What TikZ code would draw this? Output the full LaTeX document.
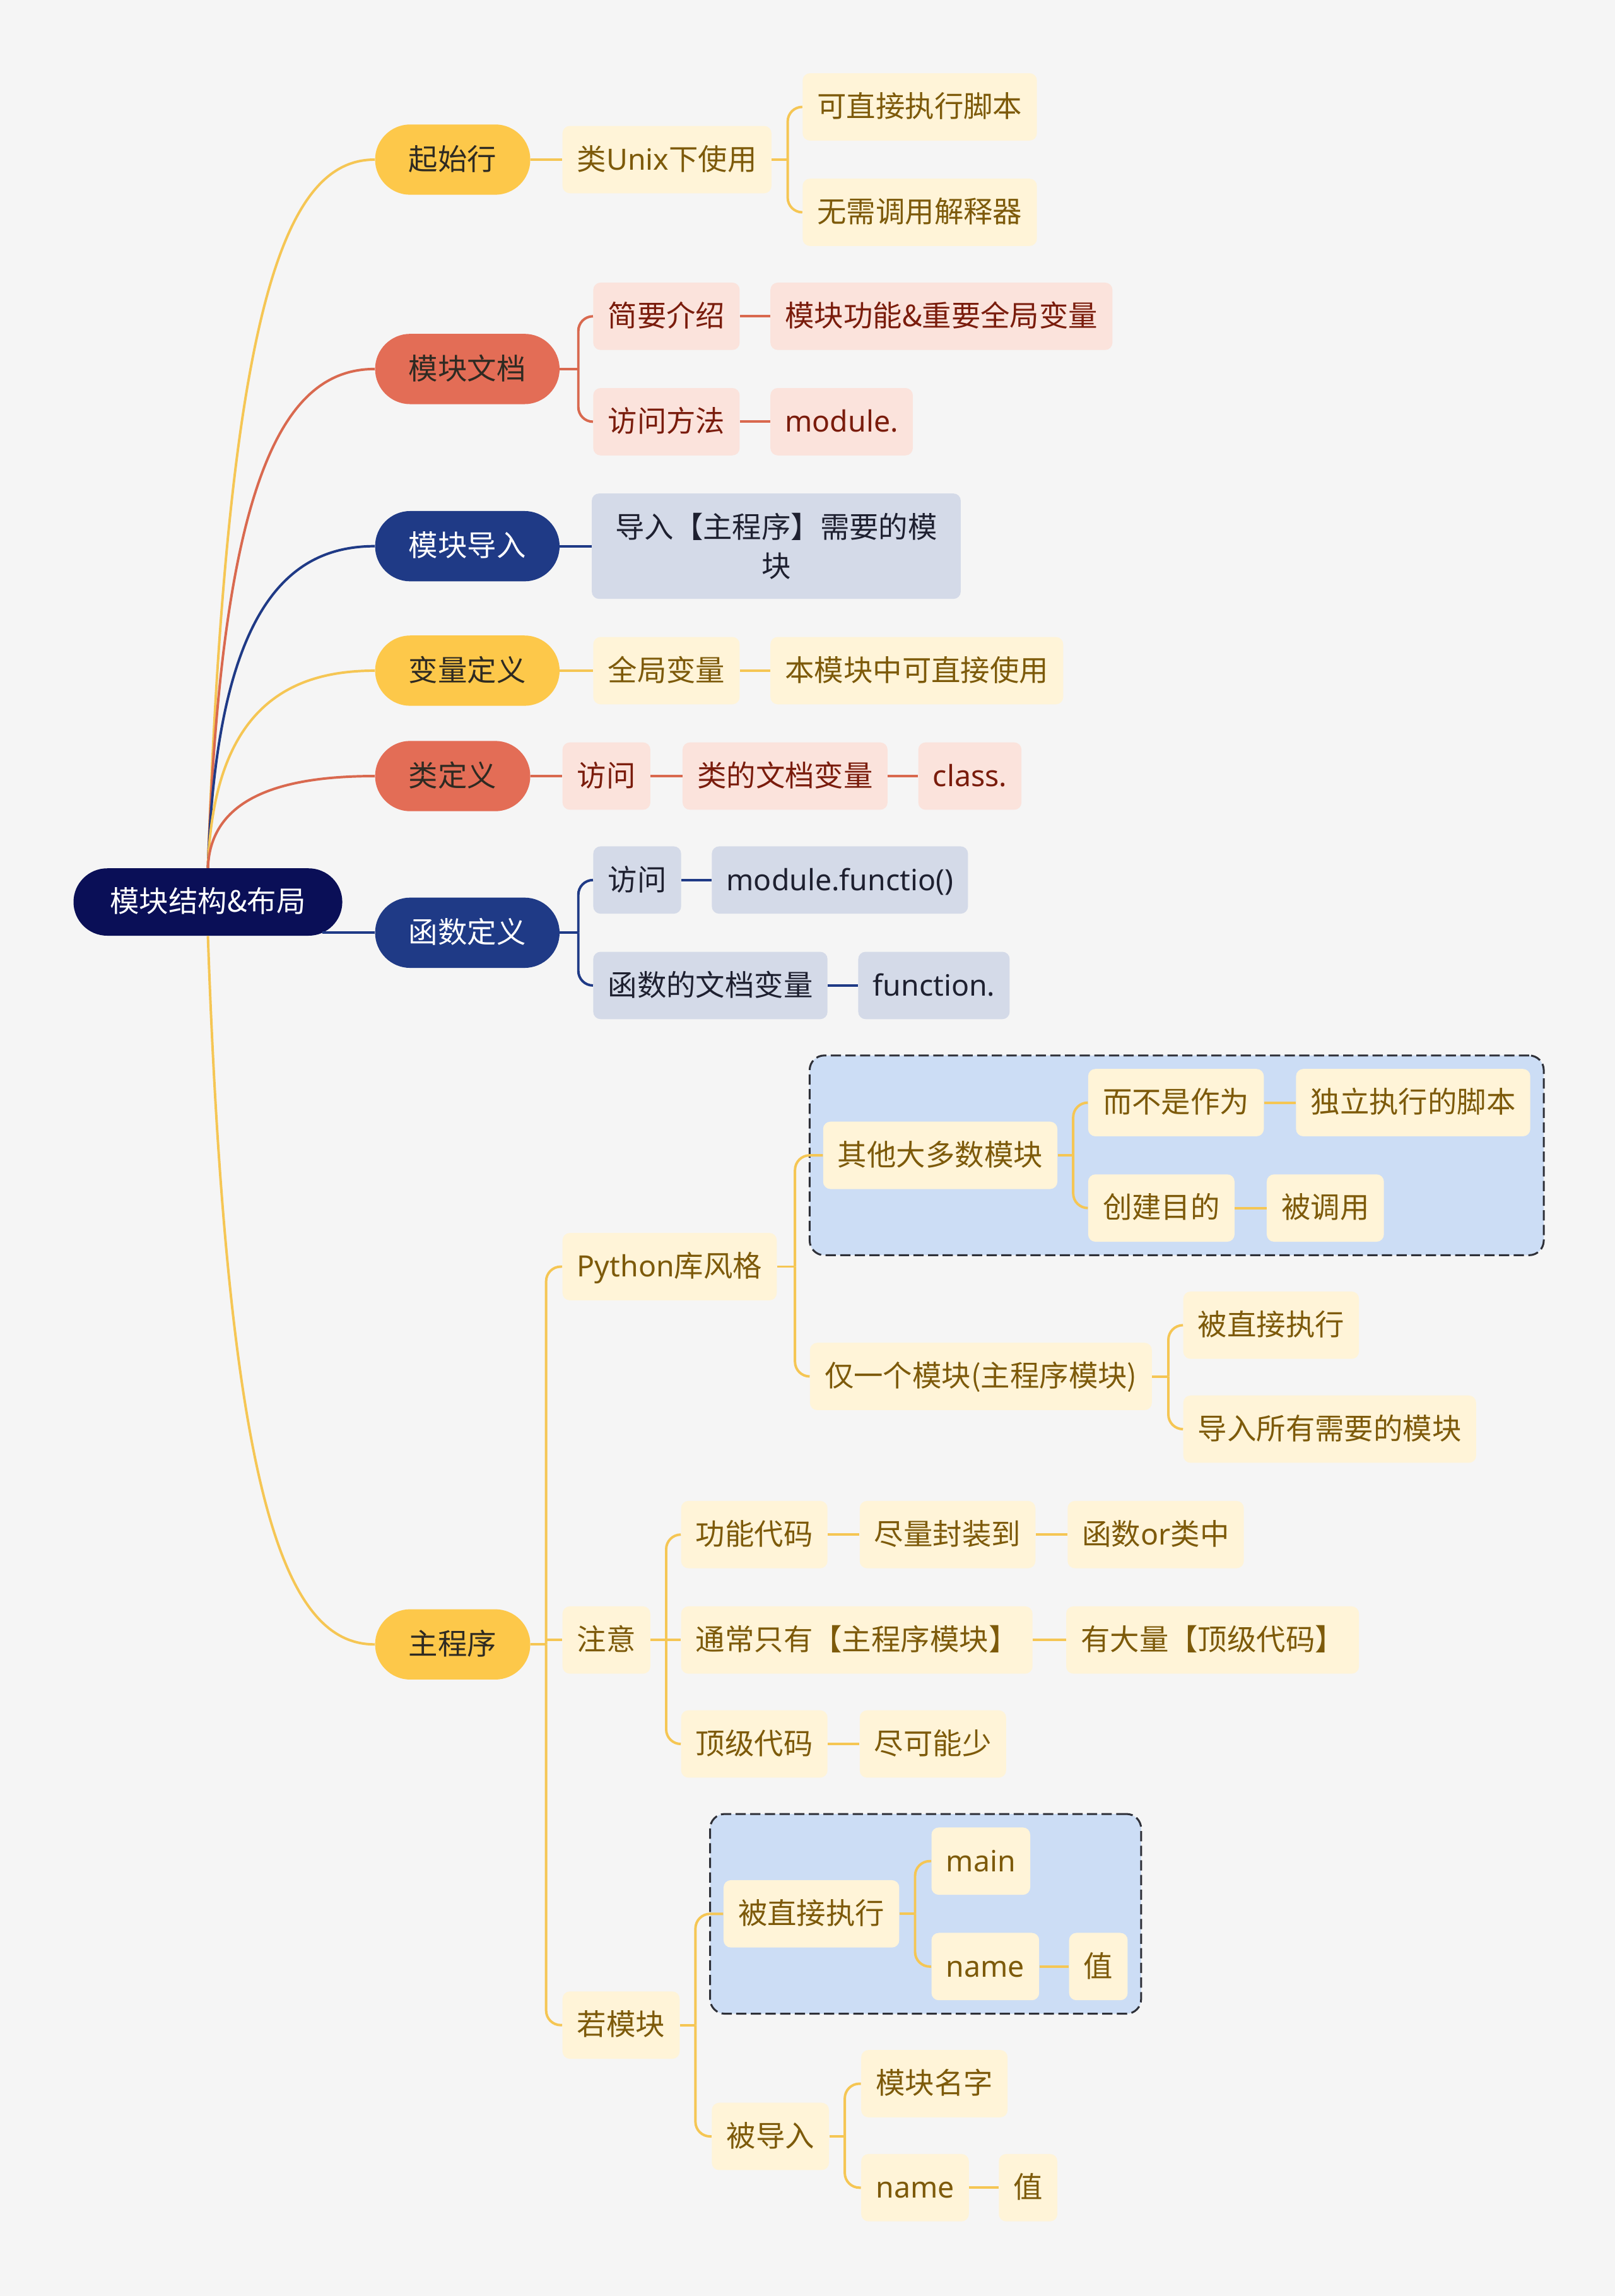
\documentclass[tikz,border=0pt]{standalone}
\usepackage{fontspec}
\setmainfont{Noto Sans CJK SC}
\newfontfamily\latin{Noto Sans}
\usetikzlibrary{fit, backgrounds}

\definecolor{pagebg}{HTML}{F5F5F5}
\definecolor{rootc}{HTML}{0A0F57}
\definecolor{ylwmain}{HTML}{FDC84A}
\definecolor{redmain}{HTML}{E36D56}
\definecolor{navymain}{HTML}{1F3A86}
\definecolor{ylwlight}{HTML}{FFF4D8}
\definecolor{redlight}{HTML}{FBE3DC}
\definecolor{navylight}{HTML}{D4DAE8}
\definecolor{ylwtxt}{HTML}{7D5A0A}
\definecolor{redtxt}{HTML}{7A1C0C}
\definecolor{navytxt}{HTML}{1E2030}
\definecolor{darktxt}{HTML}{2E2A22}
\definecolor{ylwline}{HTML}{F5C654}
\definecolor{redline}{HTML}{D9694F}
\definecolor{boxblue}{HTML}{CCDDF5}
\definecolor{boxedge}{HTML}{2E3038}

\begin{document}
\begin{tikzpicture}[
    x=1pt, y=1pt,
    font=\fontsize{20pt}{27pt}\selectfont,
    root node/.style={fill=rootc, text=white, rounded corners=23pt, minimum height=46pt, inner xsep=25pt, text height=17pt, text depth=3pt, anchor=west},
    main node/.style={rounded corners=24pt, minimum height=48pt, inner xsep=23pt, text height=17pt, text depth=3pt, anchor=west},
    ylw main/.style={main node, fill=ylwmain, text=darktxt},
    red main/.style={main node, fill=redmain, text=darktxt},
    navy main/.style={main node, fill=navymain, text=white},
    leaf node/.style={rounded corners=5pt, minimum height=46pt, inner xsep=10pt, text height=17pt, text depth=3pt, anchor=west},
    ylw leaf/.style={leaf node, fill=ylwlight, text=ylwtxt},
    red leaf/.style={leaf node, fill=redlight, text=redtxt},
    navy leaf/.style={leaf node, fill=navylight, text=navytxt},
    navy block/.style={rounded corners=5pt, fill=navylight, text=navytxt, minimum height=72pt, inner xsep=16pt, align=center, anchor=west},
    ylw line/.style={draw=ylwline, line width=1.7pt},
    red line/.style={draw=redline, line width=1.7pt},
    navy line/.style={draw=navymain, line width=1.7pt},
    fork/.style={rounded corners=10pt},
    dash box/.style={fill=boxblue, draw=boxedge, line width=1.3pt, dash pattern=on 7pt off 3pt, rounded corners=10pt, inner sep=9pt}
]
    \useasboundingbox (0,0) rectangle (1103,-1568);

    % --- root and main branches ---
    \node[root node] (root) at (50,-616) {模块结构\&布局};
    \node[ylw main] (start) at (256,-109) {起始行};
    \node[red main] (doc) at (256,-252) {模块文档};
    \node[navy main] (imp) at (256,-373) {模块导入};
    \node[ylw main] (var) at (256,-458) {变量定义};
    \node[red main] (cls) at (256,-530) {类定义};
    \node[navy main] (func) at (256,-637) {函数定义};
    \node[ylw main] (prog) at (256,-1123) {主程序};

    % --- 起始行 ---
    \node[ylw leaf] (unix) at (384,-109) {类{\latin Unix}下使用};
    \node[ylw leaf] (direct) at (548,-73) {可直接执行脚本};
    \node[ylw leaf] (nointerp) at (548,-145) {无需调用解释器};

    % --- 模块文档 ---
    \node[red leaf] (brief) at (405,-216) {简要介绍};
    \node[red leaf] (feature) at (526,-216) {模块功能\&重要全局变量};
    \node[red leaf] (access) at (405,-288) {访问方法};
    \node[red leaf] (moddot) at (526,-288) {\latin module.};

    % --- 模块导入 ---
    \node[navy block] (impmod) at (404,-373) {导入【主程序】需要的模\\块};

    % --- 变量定义 ---
    \node[ylw leaf] (glob) at (405,-458) {全局变量};
    \node[ylw leaf] (usable) at (526,-458) {本模块中可直接使用};

    % --- 类定义 ---
    \node[red leaf] (clsacc) at (384,-530) {访问};
    \node[red leaf] (clsdoc) at (466,-530) {类的文档变量};
    \node[red leaf] (clsdot) at (627,-530) {\latin class.};

    % --- 函数定义 ---
    \node[navy leaf] (fnacc) at (405,-601) {访问};
    \node[navy leaf] (fncall) at (486,-601) {\latin module.functio()};
    \node[navy leaf] (fndoc) at (405,-673) {函数的文档变量};
    \node[navy leaf] (fndot) at (586,-673) {\latin function.};

    % --- 主程序 ---
    \node[ylw leaf] (pystyle) at (384,-865) {{\latin Python}库风格};
    \node[ylw leaf] (most) at (562,-789) {其他大多数模块};
    \node[ylw leaf] (notas) at (743,-753) {而不是作为};
    \node[ylw leaf] (script) at (885,-753) {独立执行的脚本};
    \node[ylw leaf] (purpose) at (743,-825) {创建目的};
    \node[ylw leaf] (called) at (865,-825) {被调用};
    \node[ylw leaf] (onlyone) at (553,-940) {仅一个模块(主程序模块)};
    \node[ylw leaf] (rundirect) at (808,-905) {被直接执行};
    \node[ylw leaf] (impall) at (808,-976) {导入所有需要的模块};

    \node[ylw leaf] (note) at (384,-1120) {注意};
    \node[ylw leaf] (funccode) at (465,-1048) {功能代码};
    \node[ylw leaf] (wrapup) at (587,-1048) {尽量封装到};
    \node[ylw leaf] (fnorcls) at (729,-1048) {函数{\latin or}类中};
    \node[ylw leaf] (onlymain) at (465,-1120) {通常只有【主程序模块】};
    \node[ylw leaf] (lots) at (728,-1120) {有大量【顶级代码】};
    \node[ylw leaf] (toplevel) at (465,-1191) {顶级代码};
    \node[ylw leaf] (few) at (587,-1191) {尽可能少};

    \node[ylw leaf] (ifmod) at (384,-1383) {若模块};
    \node[ylw leaf] (exec) at (494,-1307) {被直接执行};
    \node[ylw leaf] (mainv) at (636,-1271) {\latin main};
    \node[ylw leaf] (namev) at (636,-1343) {\latin name};
    \node[ylw leaf] (valv) at (730,-1343) {值};
    \node[ylw leaf] (imported) at (486,-1459) {被导入};
    \node[ylw leaf] (modname) at (588,-1423) {模块名字};
    \node[ylw leaf] (namei) at (588,-1494) {\latin name};
    \node[ylw leaf] (vali) at (682,-1494) {值};

    % --- root connectors ---
    \draw[ylw line] (root.north) to[out=88, in=180, out distance=390pt, in distance=60pt] (start.west);
    \draw[red line] (root.north) to[out=88, in=180, out distance=273pt, in distance=60pt] (doc.west);
    \draw[navy line] (root.north) to[out=88, in=180, out distance=176pt, in distance=60pt] (imp.west);
    \draw[ylw line] (root.north) to[out=88, in=180, out distance=108pt, in distance=60pt] (var.west);
    \draw[red line] (root.north) to[out=88, in=180, out distance=50pt, in distance=60pt] (cls.west);
    \path (root.east |- func.west) ++(-14,0) coordinate (root-e);
    \draw[navy line] (root-e) -- (func.west);
    \draw[ylw line] (root.south) to[out=-88, in=180, out distance=390pt, in distance=60pt] (prog.west);

    % --- 起始行 connectors ---
    \draw[ylw line] (start.east) -- (unix.west);
    \path (direct.west |- unix.east) ++(-10,0) coordinate (unix-s);
    \draw[ylw line] (unix.east) -- (unix-s);
    \draw[ylw line, fork] (unix-s) |- (direct.west);
    \draw[ylw line, fork] (unix-s) |- (nointerp.west);

    % --- 模块文档 connectors ---
    \path (brief.west |- doc.east) ++(-10,0) coordinate (doc-s);
    \draw[red line] (doc.east) -- (doc-s);
    \draw[red line, fork] (doc-s) |- (brief.west);
    \draw[red line, fork] (doc-s) |- (access.west);
    \draw[red line] (brief.east) -- (feature.west);
    \draw[red line] (access.east) -- (moddot.west);

    % --- 模块导入 / 变量定义 / 类定义 connectors ---
    \draw[navy line] (imp.east) -- (impmod.west);
    \draw[ylw line] (var.east) -- (glob.west);
    \draw[ylw line] (glob.east) -- (usable.west);
    \draw[red line] (cls.east) -- (clsacc.west);
    \draw[red line] (clsacc.east) -- (clsdoc.west);
    \draw[red line] (clsdoc.east) -- (clsdot.west);

    % --- 函数定义 connectors ---
    \path (fnacc.west |- func.east) ++(-10,0) coordinate (func-s);
    \draw[navy line] (func.east) -- (func-s);
    \draw[navy line, fork] (func-s) |- (fnacc.west);
    \draw[navy line, fork] (func-s) |- (fndoc.west);
    \draw[navy line] (fnacc.east) -- (fncall.west);
    \draw[navy line] (fndoc.east) -- (fndot.west);

    % --- 主程序 connectors ---
    \path (pystyle.west |- prog.east) ++(-11,0) coordinate (prog-s);
    \draw[ylw line] (prog.east) -- (prog-s);
    \draw[ylw line, fork] (prog-s) |- (pystyle.west);
    \draw[ylw line] (prog-s |- note.west) -- (note.west);
    \draw[ylw line, fork] (prog-s) |- (ifmod.west);

    \path (onlyone.west |- pystyle.east) ++(-10,0) coordinate (py-s);
    \draw[ylw line] (pystyle.east) -- (py-s);
    \draw[ylw line, fork] (py-s) |- (most.west);
    \draw[ylw line, fork] (py-s) |- (onlyone.west);

    \path (notas.west |- most.east) ++(-10,0) coordinate (most-s);
    \draw[ylw line] (most.east) -- (most-s);
    \draw[ylw line, fork] (most-s) |- (notas.west);
    \draw[ylw line, fork] (most-s) |- (purpose.west);
    \draw[ylw line] (notas.east) -- (script.west);
    \draw[ylw line] (purpose.east) -- (called.west);

    \path (rundirect.west |- onlyone.east) ++(-10,0) coordinate (one-s);
    \draw[ylw line] (onlyone.east) -- (one-s);
    \draw[ylw line, fork] (one-s) |- (rundirect.west);
    \draw[ylw line, fork] (one-s) |- (impall.west);

    \path (funccode.west |- note.east) ++(-10,0) coordinate (note-s);
    \draw[ylw line] (note.east) -- (note-s);
    \draw[ylw line, fork] (note-s) |- (funccode.west);
    \draw[ylw line] (note-s) -- (onlymain.west);
    \draw[ylw line, fork] (note-s) |- (toplevel.west);
    \draw[ylw line] (funccode.east) -- (wrapup.west);
    \draw[ylw line] (wrapup.east) -- (fnorcls.west);
    \draw[ylw line] (onlymain.east) -- (lots.west);
    \draw[ylw line] (toplevel.east) -- (few.west);

    \path (imported.west |- ifmod.east) ++(-11,0) coordinate (if-s);
    \draw[ylw line] (ifmod.east) -- (if-s);
    \draw[ylw line, fork] (if-s) |- (exec.west);
    \draw[ylw line, fork] (if-s) |- (imported.west);

    \path (mainv.west |- exec.east) ++(-11,0) coordinate (exec-s);
    \draw[ylw line] (exec.east) -- (exec-s);
    \draw[ylw line, fork] (exec-s) |- (mainv.west);
    \draw[ylw line, fork] (exec-s) |- (namev.west);
    \draw[ylw line] (namev.east) -- (valv.west);

    \path (modname.west |- imported.east) ++(-11,0) coordinate (imd-s);
    \draw[ylw line] (imported.east) -- (imd-s);
    \draw[ylw line, fork] (imd-s) |- (modname.west);
    \draw[ylw line, fork] (imd-s) |- (namei.west);
    \draw[ylw line] (namei.east) -- (vali.west);

    % --- page and dashed groups ---
    \begin{scope}[on background layer]
        \fill[pagebg] (0,0) rectangle (1103,-1568);
        \node[dash box, fit=(most)(notas)(script)(purpose)(called)] (box1) {};
        \node[dash box, fit=(exec)(mainv)(namev)(valv)] (box2) {};
    \end{scope}
\end{tikzpicture}
\end{document}
